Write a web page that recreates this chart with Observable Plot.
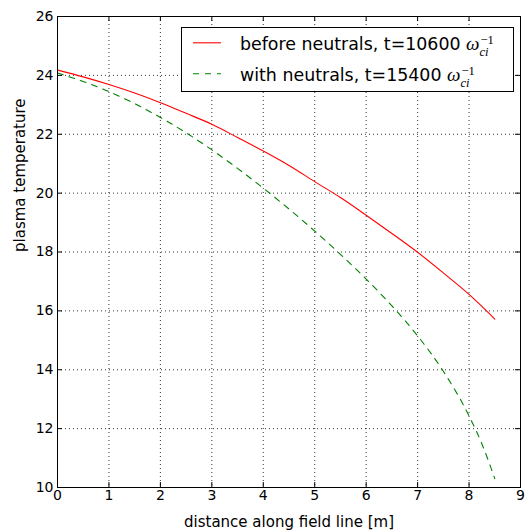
<!DOCTYPE html>
<html><head><meta charset="utf-8">
<script src="https://cdn.jsdelivr.net/npm/d3@7"></script>
<script src="https://cdn.jsdelivr.net/npm/@observablehq/plot@0.6"></script>
<style>
body{margin:0;background:#fff}
#wrap{position:relative;width:531px;height:530px}
</style>
</head><body><div id="wrap"></div>
<script>
// distance along field line [m]
const distance = [0, 0.5, 1, 1.5, 2, 2.5, 3, 3.5, 4, 4.5, 5, 5.5, 6, 6.5, 7, 7.5, 8, 8.25, 8.5];
// plasma temperature, before neutrals (t=10600)
const beforeNeutrals = [24.18, 23.95, 23.69, 23.40, 23.07, 22.71, 22.34, 21.89, 21.43, 20.94, 20.39, 19.85, 19.25, 18.63, 17.99, 17.29, 16.56, 16.15, 15.72];
// plasma temperature, with neutrals (t=15400)
const withNeutrals = [24.08, 23.79, 23.45, 23.04, 22.57, 22.05, 21.47, 20.84, 20.17, 19.46, 18.71, 17.92, 17.08, 16.17, 15.15, 13.95, 12.43, 11.48, 10.30];
const xTicks = [0, 1, 2, 3, 4, 5, 6, 7, 8, 9];
const yTicks = [10, 12, 14, 16, 18, 20, 22, 24, 26];
const seriesLabels = ["before neutrals, t=10600", "with neutrals, t=15400"];
const seriesColors = ["#ff0000", "#008000"];
const xLabel = "distance along field line [m]";
const yLabel = "plasma temperature";

const W = 531, H = 530;
const mL = 57, mR = 11, mT = 16, mB = 43;
const innerW = W - mL - mR, innerH = H - mT - mB;
const tick = 5;

const grid = {stroke: "black", strokeOpacity: 1, strokeWidth: 0.8, strokeDasharray: "1,3"};

const chart = Plot.plot({
  width: W, height: H,
  marginLeft: mL, marginRight: mR, marginTop: mT, marginBottom: mB,
  style: {fontFamily: "DejaVu Sans", fontSize: "14px", color: "black", background: "white"},
  x: {domain: [0, 9]},
  y: {domain: [10, 26]},
  marks: [
    Plot.gridX(xTicks, grid),
    Plot.gridY(yTicks, grid),
    Plot.lineY(beforeNeutrals, {x: distance, stroke: seriesColors[0], strokeWidth: 1.1, curve: "monotone-x"}),
    Plot.lineY(withNeutrals, {x: distance, stroke: seriesColors[1], strokeWidth: 1.1, strokeDasharray: "6,6", curve: "monotone-x"}),
    Plot.tickX(xTicks, {x: d => d, stroke: "black", insetTop: innerH - tick}),
    Plot.tickX(xTicks, {x: d => d, stroke: "black", insetBottom: innerH - tick}),
    Plot.tickY(yTicks, {y: d => d, stroke: "black", insetRight: innerW - tick}),
    Plot.tickY(yTicks, {y: d => d, stroke: "black", insetLeft: innerW - tick}),
    Plot.axisX({ticks: xTicks, tickSize: 0, tickPadding: 3, fontSize: 14, label: null}),
    Plot.axisY({ticks: yTicks, tickSize: 0, tickPadding: 4, fontSize: 14, label: null}),
    Plot.text([xLabel], {text: d => d, frameAnchor: "bottom", lineAnchor: "bottom", dy: 39, fontSize: 15, fill: "black"}),
    Plot.text([yLabel], {text: d => d, frameAnchor: "left", lineAnchor: "top", rotate: -90, dx: -43, fontSize: 15, fill: "black"}),
    Plot.frame({stroke: "black", strokeWidth: 1})
  ]
});
const wrap = document.getElementById("wrap");
wrap.appendChild(chart);

// legend overlay
const leg = d3.create("svg").attr("width", W).attr("height", H)
  .style("position", "absolute").style("left", "0px").style("top", "0px");
leg.append("rect").attr("x", 181.5).attr("y", 27.5).attr("width", 332).attr("height", 64)
  .attr("fill", "white").attr("stroke", "black").attr("stroke-width", 1);
seriesLabels.forEach((lab, i) => {
  const base = 50.3 + i * 31;
  const ly = base - 7.5;
  leg.append("line").attr("x1", 193).attr("x2", 221).attr("y1", ly).attr("y2", ly)
    .attr("stroke", seriesColors[i]).attr("stroke-width", 1.1)
    .attr("stroke-dasharray", i === 1 ? "6,6" : null);
  const t = leg.append("text").attr("x", 240).attr("y", base)
    .attr("font-family", "DejaVu Sans").attr("font-size", 17.4).attr("fill", "black");
  t.append("tspan").text(lab + " ");
  t.append("tspan").attr("font-family", "Liberation Serif").attr("font-style", "italic").attr("font-size", 19).text("ω");
  t.append("tspan").attr("font-family", "Liberation Serif").attr("font-style", "italic").attr("font-size", 12.5).attr("dy", 6).text("ci");
  t.append("tspan").attr("font-family", "Liberation Serif").attr("font-size", 12.5).attr("dx", -8).attr("dy", -12).text("−1");
});
wrap.appendChild(leg.node());
</script>
</body></html>
